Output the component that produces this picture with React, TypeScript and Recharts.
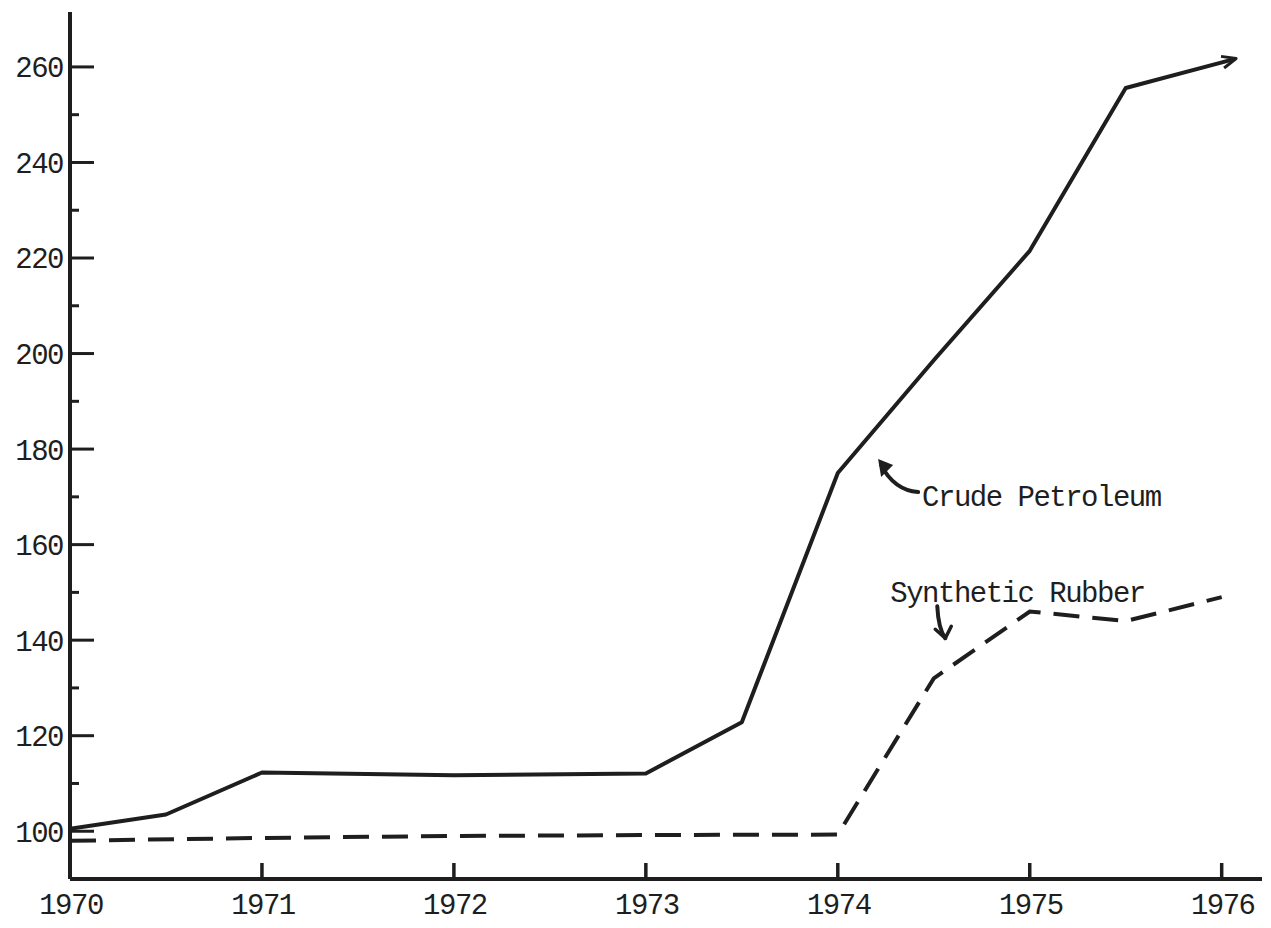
import React from 'react';
import { LineChart, Line, XAxis, YAxis, ReferenceDot } from 'recharts';

// ---- data ----
const crudeYears = [1970, 1970.5, 1971, 1972, 1973, 1973.5, 1974, 1974.5, 1975, 1975.5, 1976.07];
const crudeValues = [100.5, 103.5, 112.3, 111.7, 112.1, 122.8, 175, 198.6, 221.5, 255.6, 261.7];
const rubberYears = [1970, 1971, 1972, 1973, 1974, 1974.5, 1975, 1975.5, 1976];
const rubberValues = [98, 98.6, 99, 99.2, 99.3, 132, 146, 144, 149];
const xTickYears = [1970, 1971, 1972, 1973, 1974, 1975, 1976];
const yTickValues = [100, 110, 120, 130, 140, 150, 160, 170, 180, 190, 200, 210, 220, 230, 240, 250, 260];
const seriesNames = ['Crude Petroleum', 'Synthetic Rubber'];
// annotation arrow tips, in data coordinates [year, value]
const crudeLabelTip = [1974.21, 177.9];
const rubberLabelTip = [1974.56, 140.4];

const crudeData = crudeYears.map((year, i) => ({ year, value: crudeValues[i] }));
const rubberData = rubberYears.map((year, i) => ({ year, value: rubberValues[i] }));

const INK = '#1e1e1e';
const FONT = "'Liberation Mono', 'Courier New', monospace";
const FS = 29;
const LS = -1.5;

const YTick = (props: any) => {
  const { x, y, payload } = props;
  const v = payload.value;
  const major = v % 20 === 0;
  return (
    <g>
      <line x1={x} x2={x + (major ? 24 : 9)} y1={y} y2={y} stroke={INK} strokeWidth={3} />
      {major && (
        <text x={x - 7} y={y} dy="0.36em" textAnchor="end" fill={INK}
          fontFamily={FONT} fontSize={FS} letterSpacing={LS}>{v}</text>
      )}
    </g>
  );
};

const XTick = (props: any) => {
  const { x, y, payload } = props;
  const v = payload.value;
  return (
    <g>
      {v > 1970 && <line x1={x} x2={x} y1={y} y2={y - 16} stroke={INK} strokeWidth={3.5} />}
      <text x={x + 1} y={y + 25} dy="0.36em" textAnchor="middle" fill={INK}
        fontFamily={FONT} fontSize={FS} letterSpacing={LS}>{v}</text>
    </g>
  );
};

const ArrowDot = (props: any) => {
  const { cx, cy, index } = props;
  if (index !== crudeValues.length - 1) return <g key={`d${index}`} />;
  return (
    <g key={`d${index}`} transform={`translate(${cx},${cy}) rotate(-15)`}>
      <path d="M-13,-6 L1,0 L-13,6" fill="none" stroke={INK} strokeWidth={3} strokeLinejoin="round" />
    </g>
  );
};

const CrudeLabel = (props: any) => {
  const { cx, cy } = props;
  return (
    <g>
      <path d={`M${cx + 40},${cy + 33} Q${cx + 16},${cy + 31} ${cx + 3},${cy + 6}`}
        fill="none" stroke={INK} strokeWidth={4} strokeLinecap="round" />
      <polygon points={`${cx},${cy} ${cx + 15},${cy + 6} ${cx + 3},${cy + 18}`} fill={INK} />
      <text x={cx + 44} y={cy + 47} fill={INK} fontFamily={FONT} fontSize={FS} letterSpacing={LS}>
        {seriesNames[0]}
      </text>
    </g>
  );
};

const RubberLabel = (props: any) => {
  const { cx, cy } = props;
  return (
    <g>
      <text x={cx - 55} y={cy - 36} fill={INK} fontFamily={FONT} fontSize={FS} letterSpacing={LS}>
        {seriesNames[1]}
      </text>
      <path d={`M${cx - 8},${cy - 32} Q${cx - 7},${cy - 10} ${cx},${cy}`}
        fill="none" stroke={INK} strokeWidth={4} strokeLinecap="round" />
      <path d={`M${cx - 10},${cy - 9} L${cx},${cy} L${cx + 6},${cy - 12}`}
        fill="none" stroke={INK} strokeWidth={3.5} strokeLinecap="round" strokeLinejoin="round" />
    </g>
  );
};

export default function App() {
  return (
    <div style={{ position: 'absolute', left: 0, top: 0, background: '#fff' }}>
      <LineChart width={1271} height={928} margin={{ top: 12, right: 9, bottom: 0, left: 0 }}>
        <XAxis
          dataKey="year"
          type="number"
          domain={[1970, 1976.21]}
          ticks={xTickYears}
          interval={0}
          allowDataOverflow
          height={49}
          tickSize={0}
          tickMargin={0}
          tickLine={false}
          axisLine={{ stroke: INK, strokeWidth: 4 }}
          tick={<XTick />}
        />
        <YAxis
          type="number"
          domain={[90, 271.5]}
          ticks={yTickValues}
          interval={0}
          allowDataOverflow
          width={70}
          tickSize={0}
          tickMargin={0}
          tickLine={false}
          axisLine={{ stroke: INK, strokeWidth: 4 }}
          tick={<YTick />}
        />
        <Line
          data={rubberData}
          dataKey="value"
          type="linear"
          stroke={INK}
          strokeWidth={4}
          strokeDasharray="26 13"
          dot={false}
          activeDot={false}
          isAnimationActive={false}
        />
        <Line
          data={crudeData}
          dataKey="value"
          type="linear"
          stroke={INK}
          strokeWidth={4}
          strokeLinejoin="round"
          dot={ArrowDot}
          activeDot={false}
          isAnimationActive={false}
        />
        <ReferenceDot x={crudeLabelTip[0]} y={crudeLabelTip[1]} r={0} ifOverflow="visible"
          shape={(p: any) => <CrudeLabel cx={p.cx} cy={p.cy} />} />
        <ReferenceDot x={rubberLabelTip[0]} y={rubberLabelTip[1]} r={0} ifOverflow="visible"
          shape={(p: any) => <RubberLabel cx={p.cx} cy={p.cy} />} />
      </LineChart>
    </div>
  );
}
